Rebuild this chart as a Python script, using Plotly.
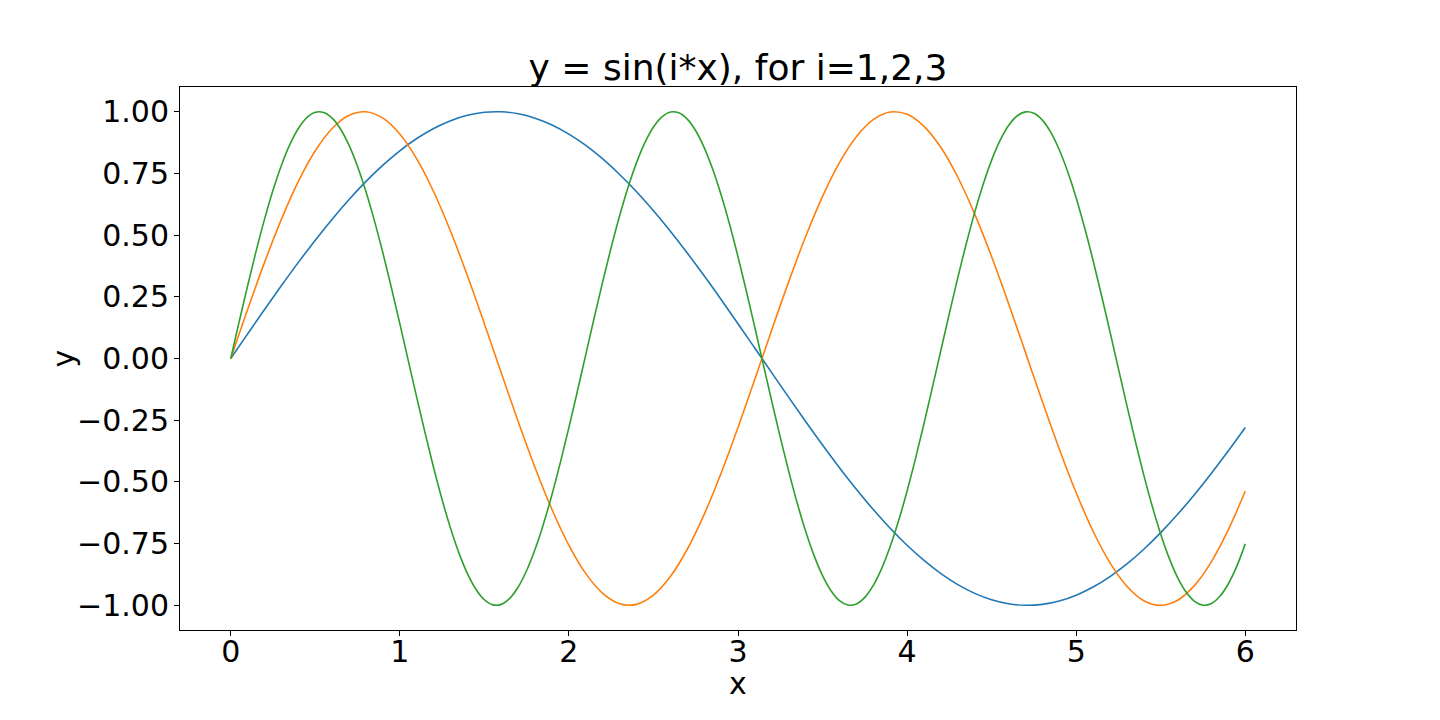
import plotly.graph_objects as go

# x grid (step 0.1) for i=1 and i=2, finer grid (step 0.05) for i=3
x_vals = [round(0.1 * k, 1) for k in range(61)]
x_fine = [round(0.05 * k, 2) for k in range(121)]

y_i1 = [0.0000, 0.0998, 0.1987, 0.2955, 0.3894, 0.4794, 0.5646, 0.6442, 0.7174, 0.7833,
        0.8415, 0.8912, 0.9320, 0.9636, 0.9854, 0.9975, 0.9996, 0.9917, 0.9738, 0.9463,
        0.9093, 0.8632, 0.8085, 0.7457, 0.6755, 0.5985, 0.5155, 0.4274, 0.3350, 0.2392,
        0.1411, 0.0416, -0.0584, -0.1577, -0.2555, -0.3508, -0.4425, -0.5298, -0.6119, -0.6878,
        -0.7568, -0.8183, -0.8716, -0.9162, -0.9516, -0.9775, -0.9937, -0.9999, -0.9962, -0.9825,
        -0.9589, -0.9258, -0.8835, -0.8323, -0.7728, -0.7055, -0.6313, -0.5507, -0.4646, -0.3739,
        -0.2794]

y_i2 = [0.0000, 0.1987, 0.3894, 0.5646, 0.7174, 0.8415, 0.9320, 0.9854, 0.9996, 0.9738,
        0.9093, 0.8085, 0.6755, 0.5155, 0.3350, 0.1411, -0.0584, -0.2555, -0.4425, -0.6119,
        -0.7568, -0.8716, -0.9516, -0.9937, -0.9962, -0.9589, -0.8835, -0.7728, -0.6313, -0.4646,
        -0.2794, -0.0831, 0.1165, 0.3115, 0.4941, 0.6570, 0.7937, 0.8987, 0.9679, 0.9985,
        0.9894, 0.9407, 0.8546, 0.7344, 0.5849, 0.4121, 0.2229, 0.0248, -0.1743, -0.3665,
        -0.5440, -0.6999, -0.8278, -0.9228, -0.9812, -1.0000, -0.9792, -0.9193, -0.8228, -0.6935,
        -0.5366]

y_i3 = [0.0000, 0.1494, 0.2955, 0.4350, 0.5646, 0.6816, 0.7833, 0.8674, 0.9320, 0.9757,
        0.9975, 0.9969, 0.9738, 0.9290, 0.8632, 0.7781, 0.6755, 0.5577, 0.4274, 0.2875,
        0.1411, -0.0084, -0.1577, -0.3035, -0.4425, -0.5716, -0.6878, -0.7885, -0.8716, -0.9350,
        -0.9775, -0.9981, -0.9962, -0.9719, -0.9258, -0.8589, -0.7728, -0.6692, -0.5507, -0.4198,
        -0.2794, -0.1328, 0.0168, 0.1660, 0.3115, 0.4500, 0.5784, 0.6939, 0.7937, 0.8757,
        0.9380, 0.9793, 0.9985, 0.9955, 0.9699, 0.9227, 0.8546, 0.7674, 0.6630, 0.5437,
        0.4121, 0.2714, 0.1245, -0.0252, -0.1743, -0.3195, -0.4575, -0.5852, -0.6999, -0.7988,
        -0.8797, -0.9408, -0.9812, -0.9990, -0.9946, -0.9678, -0.9193, -0.8502, -0.7620, -0.6567,
        -0.5366, -0.4045, -0.2633, -0.1161, 0.0336, 0.1826, 0.3274, 0.4651, 0.5920, 0.7058,
        0.8038, 0.8836, 0.9437, 0.9825, 0.9993, 0.9936, 0.9657, 0.9161, 0.8457, 0.7566,
        0.6503, 0.5295, 0.3968, 0.2551, 0.1078, -0.0420, -0.1908, -0.3354, -0.4724, -0.5988,
        -0.7118, -0.8087, -0.8876, -0.9464, -0.9840, -0.9996, -0.9927, -0.9634, -0.9126, -0.8412,
        -0.7510]

series = [("i=1", x_vals, y_i1, "#1f77b4"),
          ("i=2", x_vals, y_i2, "#ff7f0e"),
          ("i=3", x_fine, y_i3, "#2ca02c")]

x_ticks = [0, 1, 2, 3, 4, 5, 6]
y_ticks = [-1.0, -0.75, -0.5, -0.25, 0.0, 0.25, 0.5, 0.75, 1.0]

FONT = "DejaVu Sans"
TICK_SIZE = 30
LABEL_SIZE = 30
TITLE_SIZE = 36

fig = go.Figure()
for name, xs, ys, col in series:
    fig.add_trace(go.Scatter(x=xs, y=ys, mode="lines", name=name,
                             line=dict(color=col, width=1.6, shape="spline", smoothing=1.0)))

axis_common = dict(showline=True, linecolor="black", linewidth=1, mirror=True,
                   ticks="outside", ticklen=5, tickwidth=1, tickcolor="black",
                   showgrid=False, zeroline=False,
                   tickfont=dict(family=FONT, size=TICK_SIZE, color="black"))

fig.update_layout(
    width=1440, height=720,
    paper_bgcolor="white", plot_bgcolor="white",
    margin=dict(l=172, r=152, t=79, b=98),
    showlegend=False,
    font=dict(family=FONT, color="black"),
    title=dict(text="y = sin(i*x), for i=1,2,3", x=730 / 1440, xanchor="center",
               y=1 - 59 / 720, yanchor="middle", yref="container",
               font=dict(family=FONT, size=TITLE_SIZE, color="black")),
    xaxis=dict(range=[-0.3, 6.3], tickvals=x_ticks, ticklabelstandoff=-10, **axis_common),
    yaxis=dict(range=[-1.1, 1.1], tickvals=y_ticks, tickformat=".2f", ticklabelstandoff=-1,
               **axis_common),
    annotations=[
        dict(text="x", xref="paper", yref="paper", x=0.5, y=-53 / 543,
             xanchor="center", yanchor="middle", showarrow=False,
             font=dict(family=FONT, size=LABEL_SIZE, color="black")),
        dict(text="y", xref="paper", yref="paper", x=-117 / 1116, y=0.5,
             xanchor="center", yanchor="middle", textangle=-90, showarrow=False,
             font=dict(family=FONT, size=LABEL_SIZE, color="black")),
    ],
)

fig.write_html("out.html")
